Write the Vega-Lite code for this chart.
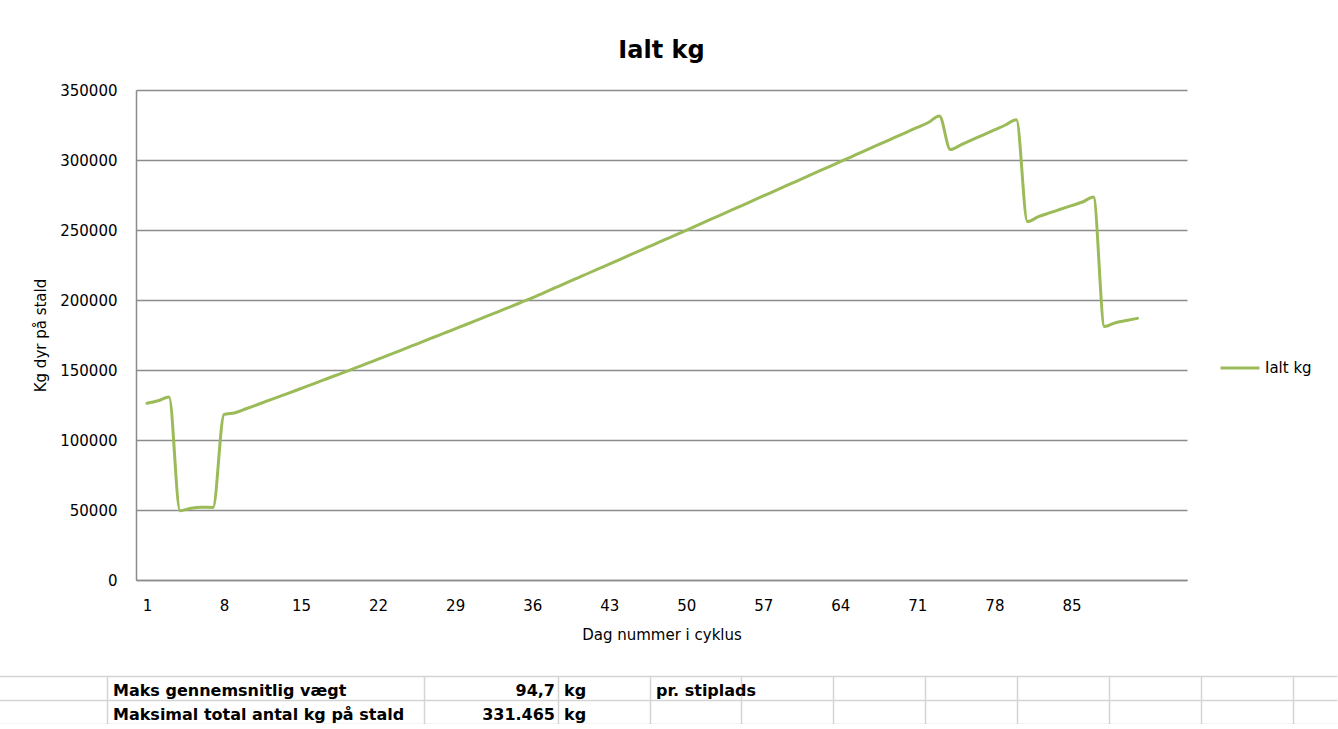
{
  "$schema": "https://vega.github.io/schema/vega-lite/v6.json",
  "background": "white",
  "padding": {"left": 33, "top": 39, "right": 0, "bottom": 0},
  "spacing": 34,
  "config": {"font": "DejaVu Sans", "view": {"stroke": null}},
  "vconcat": [
    {
      "width": 1051,
      "height": 490,
      "title": {"text": "Ialt kg", "fontSize": 24, "font": "DejaVu Sans", "fontWeight": "bold", "color": "#000000", "offset": 20, "anchor": "middle"},
      "data": {"values": [
        {"dag": 1, "kg": 126200}, {"dag": 2, "kg": 128000}, {"dag": 3, "kg": 130800}, {"dag": 4, "kg": 49500},
        {"dag": 5, "kg": 51300}, {"dag": 6, "kg": 52000}, {"dag": 7, "kg": 51800}, {"dag": 8, "kg": 118300},
        {"dag": 9, "kg": 119500}, {"dag": 10, "kg": 122300}, {"dag": 11, "kg": 125200}, {"dag": 12, "kg": 128100},
        {"dag": 13, "kg": 131000}, {"dag": 14, "kg": 133900}, {"dag": 15, "kg": 136800}, {"dag": 16, "kg": 139700},
        {"dag": 17, "kg": 142700}, {"dag": 18, "kg": 145700}, {"dag": 19, "kg": 148600}, {"dag": 20, "kg": 151650},
        {"dag": 21, "kg": 154700}, {"dag": 22, "kg": 157750}, {"dag": 23, "kg": 160800}, {"dag": 24, "kg": 163900},
        {"dag": 25, "kg": 167000}, {"dag": 26, "kg": 170100}, {"dag": 27, "kg": 173200}, {"dag": 28, "kg": 176300},
        {"dag": 29, "kg": 179400}, {"dag": 30, "kg": 182500}, {"dag": 31, "kg": 185650}, {"dag": 32, "kg": 188800},
        {"dag": 33, "kg": 191950}, {"dag": 34, "kg": 195100}, {"dag": 35, "kg": 198300}, {"dag": 36, "kg": 201500},
        {"dag": 37, "kg": 204950}, {"dag": 38, "kg": 208400}, {"dag": 39, "kg": 211850}, {"dag": 40, "kg": 215300},
        {"dag": 41, "kg": 218750}, {"dag": 42, "kg": 222200}, {"dag": 43, "kg": 225650}, {"dag": 44, "kg": 229100},
        {"dag": 45, "kg": 232550}, {"dag": 46, "kg": 236000}, {"dag": 47, "kg": 239450}, {"dag": 48, "kg": 242900},
        {"dag": 49, "kg": 246350}, {"dag": 50, "kg": 249800}, {"dag": 51, "kg": 253300}, {"dag": 52, "kg": 256800},
        {"dag": 53, "kg": 260300}, {"dag": 54, "kg": 263800}, {"dag": 55, "kg": 267300}, {"dag": 56, "kg": 270800},
        {"dag": 57, "kg": 274300}, {"dag": 58, "kg": 277800}, {"dag": 59, "kg": 281300}, {"dag": 60, "kg": 284800},
        {"dag": 61, "kg": 288300}, {"dag": 62, "kg": 291800}, {"dag": 63, "kg": 295300}, {"dag": 64, "kg": 298800},
        {"dag": 65, "kg": 302300}, {"dag": 66, "kg": 305800}, {"dag": 67, "kg": 309300}, {"dag": 68, "kg": 312800},
        {"dag": 69, "kg": 316300}, {"dag": 70, "kg": 319800}, {"dag": 71, "kg": 323300}, {"dag": 72, "kg": 326800},
        {"dag": 73, "kg": 331465}, {"dag": 74, "kg": 307500}, {"dag": 75, "kg": 311000}, {"dag": 76, "kg": 314500},
        {"dag": 77, "kg": 318000}, {"dag": 78, "kg": 321500}, {"dag": 79, "kg": 325000}, {"dag": 80, "kg": 328800},
        {"dag": 81, "kg": 256000}, {"dag": 82, "kg": 259500}, {"dag": 83, "kg": 262200}, {"dag": 84, "kg": 264800},
        {"dag": 85, "kg": 267400}, {"dag": 86, "kg": 270000}, {"dag": 87, "kg": 273500}, {"dag": 88, "kg": 181000},
        {"dag": 89, "kg": 183800}, {"dag": 90, "kg": 185300}, {"dag": 91, "kg": 186900}
      ]},
      "mark": {"type": "line", "interpolate": "monotone", "strokeWidth": 3, "strokeCap": "round", "strokeJoin": "round"},
      "encoding": {
        "x": {
          "field": "dag", "type": "quantitative",
          "scale": {"domain": [0, 95.5], "nice": false, "zero": false},
          "axis": {
            "values": [1, 8, 15, 22, 29, 36, 43, 50, 57, 64, 71, 78, 85],
            "title": "Dag nummer i cyklus", "grid": false, "ticks": false,
            "domainColor": "#8C8C8C", "domainWidth": 1.5,
            "labelPadding": 18, "labelFontSize": 15, "labelColor": "#000000", "labelFont": "DejaVu Sans",
            "titleFontSize": 15, "titleFontWeight": "normal", "titleColor": "#000000", "titleFont": "DejaVu Sans", "titlePadding": 14
          }
        },
        "y": {
          "field": "kg", "type": "quantitative",
          "scale": {"domain": [0, 350000], "nice": false},
          "axis": {
            "values": [0, 50000, 100000, 150000, 200000, 250000, 300000, 350000],
            "format": "d", "title": "Kg dyr på stald", "grid": true, "gridColor": "#8C8C8C", "gridWidth": 1.5,
            "ticks": false, "domainColor": "#8C8C8C", "domainWidth": 1.5,
            "labelPadding": 19, "labelFontSize": 15, "labelColor": "#000000", "labelFont": "DejaVu Sans",
            "titleFontSize": 15, "titleFontWeight": "normal", "titleColor": "#000000", "titleFont": "DejaVu Sans", "titlePadding": 11
          }
        },
        "color": {
          "datum": "Ialt kg", "type": "nominal",
          "scale": {"range": ["#9BBB59"]},
          "legend": {
            "title": null, "orient": "none", "legendX": 1083, "legendY": 257,
            "symbolType": "stroke", "symbolSize": 1521, "symbolStrokeWidth": 3,
            "labelFontSize": 15, "labelColor": "#000000", "labelFont": "DejaVu Sans", "labelOffset": 4
          }
        }
      }
    },
    {
      "width": 1201,
      "height": 48,
      "data": {"values": [
        {"rad": 1, "kol": 2, "tekst": "Maks gennemsnitlig vægt"},
        {"rad": 1, "kol": 4, "tekst": "94,7"},
        {"rad": 1, "kol": 5, "tekst": "kg"},
        {"rad": 1, "kol": 6, "tekst": "pr. stiplads"},
        {"rad": 2, "kol": 2, "tekst": "Maksimal total antal kg på stald"},
        {"rad": 2, "kol": 4, "tekst": "331.465"},
        {"rad": 2, "kol": 5, "tekst": "kg"}
      ]},
      "encoding": {
        "x": {
          "field": "kol", "type": "quantitative",
          "scale": {"domain": [1, 2, 3, 4, 5, 6, 7, 8, 9, 10, 11, 12, 13, 14], "range": [-137, -29, 108, 288, 422, 514, 605, 697, 789, 881, 973, 1065, 1157, 1201]},
          "axis": {"values": [2, 4, 5, 6, 7, 8, 9, 10, 11, 12, 13], "grid": true, "gridColor": "#D4D4D4", "gridWidth": 1.5, "labels": false, "ticks": false, "domain": false, "title": null}
        },
        "y": {
          "field": "rad", "type": "ordinal",
          "scale": {"type": "band", "paddingInner": 0, "paddingOuter": 0},
          "axis": {"grid": true, "tickBand": "extent", "gridColor": "#D4D4D4", "gridWidth": 1.5, "labels": false, "ticks": false, "domain": false, "title": null}
        }
      },
      "layer": [
        {
          "transform": [{"filter": "datum.kol != 4"}],
          "mark": {"type": "text", "align": "left", "baseline": "middle", "dx": 6, "dy": 3, "fontSize": 16, "fontWeight": "bold", "font": "DejaVu Sans", "color": "#000000"},
          "encoding": {"text": {"field": "tekst"}}
        },
        {
          "transform": [{"filter": "datum.kol == 4"}],
          "mark": {"type": "text", "align": "right", "baseline": "middle", "dx": 131, "dy": 3, "fontSize": 16, "fontWeight": "bold", "font": "DejaVu Sans", "color": "#000000"},
          "encoding": {"text": {"field": "tekst"}}
        }
      ]
    }
  ]
}
